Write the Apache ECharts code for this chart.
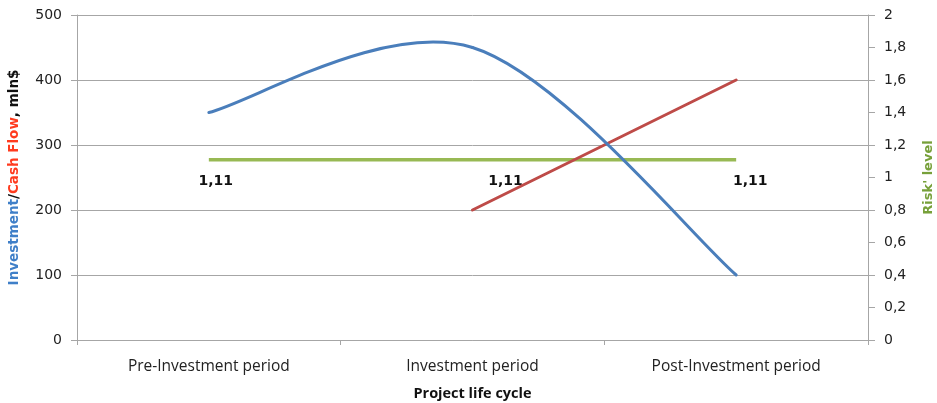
<!DOCTYPE html>
<html>
<head>
<meta charset="utf-8">
<script src="https://cdn.jsdelivr.net/npm/echarts@6/dist/echarts.min.js"></script>
<style>
  html, body { margin: 0; padding: 0; background: #fff; }
  #chart { width: 937px; height: 403px; }
</style>
</head>
<body>
<div id="chart"></div>
<script>
// Project life cycle stages
const stages = ['Pre-Investment period', 'Investment period', 'Post-Investment period'];
// Investment, mln$
const investment = [350, 450, 100];
// Cash flow, mln$
const cashFlow = [null, 200, 400];
// Risk level (right axis)
const riskLevel = [1.11, 1.11, 1.11];
// Left and right axis ranges
const leftAxis = { min: 0, max: 500, step: 100 };
const rightAxis = { min: 0, max: 2, step: 0.2 };

const riskLabelOffsets = [[7, 0], [33, 0], [14, 0]];
const fmtComma = v => String(Math.round(v * 100) / 100).replace('.', ',');

const axisGray = '#a6a6a6';
const blue = '#4a7ebb';

// Smoothed investment curve: cubic Bezier segments with Catmull-Rom style
// control points (tension 1/6), placed through the axes' coordinate system.
function renderSmoothSegment(params, api) {
  const i = params.dataIndex;
  const n = investment.length;
  const pt = k => api.coord([Math.max(0, Math.min(n - 1, k)), investment[Math.max(0, Math.min(n - 1, k))]]);
  const p0 = pt(i - 1), p1 = pt(i), p2 = pt(i + 1), p3 = pt(i + 2);
  const t = 1 / 6;
  return {
    type: 'bezierCurve',
    shape: {
      x1: p1[0], y1: p1[1],
      x2: p2[0], y2: p2[1],
      cpx1: p1[0] + (p2[0] - p0[0]) * t,
      cpy1: p1[1] + (p2[1] - p0[1]) * t,
      cpx2: p2[0] - (p3[0] - p1[0]) * t,
      cpy2: p2[1] - (p3[1] - p1[1]) * t
    },
    style: { stroke: blue, lineWidth: 3, fill: null, lineCap: 'round' }
  };
}

const chart = echarts.init(document.getElementById('chart'));
chart.setOption({
  animation: false,
  grid: { left: 77, right: 69, top: 15, bottom: 63, containLabel: false, outerBoundsMode: 'none' },
  xAxis: {
    type: 'category',
    data: stages,
    boundaryGap: true,
    axisLine: { lineStyle: { color: axisGray, width: 1 } },
    axisTick: { show: true, length: 5, lineStyle: { color: axisGray } },
    axisLabel: { color: '#222', fontFamily: 'Open Sans', fontSize: 15.5, margin: 19 },
    name: 'Project life cycle',
    nameLocation: 'middle',
    nameGap: 46,
    nameTextStyle: { color: '#111', fontFamily: 'Open Sans', fontWeight: 'bold', fontSize: 14.5 }
  },
  yAxis: [
    {
      type: 'value',
      min: leftAxis.min, max: leftAxis.max, interval: leftAxis.step,
      axisLine: { show: true, lineStyle: { color: axisGray } },
      axisTick: { show: true, length: 6, lineStyle: { color: axisGray } },
      splitLine: { lineStyle: { color: axisGray, width: 1 } },
      axisLabel: { color: '#222', fontFamily: 'DejaVu Sans', fontSize: 14, margin: 15 },
      name: '{b|Investment}{k|/}{r|Cash Flow}{k|, mln$}',
      nameLocation: 'middle',
      nameGap: 56,
      nameTextStyle: {
        fontFamily: 'DejaVu Sans', fontWeight: 'bold', fontSize: 13.5,
        rich: {
          b: { color: '#3f7fc8', fontFamily: 'DejaVu Sans', fontWeight: 'bold', fontSize: 13.5 },
          r: { color: '#ff3b1f', fontFamily: 'DejaVu Sans', fontWeight: 'bold', fontSize: 13.5 },
          k: { color: '#111', fontFamily: 'DejaVu Sans', fontWeight: 'bold', fontSize: 13.5 }
        }
      }
    },
    {
      type: 'value',
      position: 'right',
      min: rightAxis.min, max: rightAxis.max, interval: rightAxis.step,
      axisLine: { show: true, lineStyle: { color: axisGray } },
      axisTick: { show: true, length: 7, lineStyle: { color: axisGray } },
      splitLine: { show: false },
      axisLabel: { color: '#222', fontFamily: 'DejaVu Sans', fontSize: 14, margin: 16, formatter: fmtComma },
      name: "Risk' level",
      nameLocation: 'middle',
      nameGap: 54,
      nameRotate: 90,
      nameTextStyle: { color: '#77a03a', fontFamily: 'DejaVu Sans', fontWeight: 'bold', fontSize: 13 }
    }
  ],
  series: [
    {
      type: 'custom', yAxisIndex: 0,
      data: investment.slice(0, -1).map((v, i) => [i, v]),
      encode: { x: 0, y: 1 },
      renderItem: renderSmoothSegment,
      clip: false, z: 3
    },
    {
      type: 'line', yAxisIndex: 0, data: cashFlow,
      symbol: 'none', lineStyle: { color: '#be4b48', width: 3, cap: 'round' }, z: 2
    },
    {
      type: 'line', yAxisIndex: 1,
      data: riskLevel.map((v, i) => ({
        value: v,
        label: { offset: riskLabelOffsets[i] }
      })),
      symbol: 'circle', symbolSize: 1, showSymbol: true,
      itemStyle: { color: 'rgba(152,185,84,0)' },
      lineStyle: { color: '#98b954', width: 3.5 },
      label: {
        show: true, position: 'bottom', distance: 14,
        formatter: p => fmtComma(p.value),
        color: '#111', fontFamily: 'DejaVu Sans', fontWeight: 'bold', fontSize: 14
      },
      z: 1
    }
  ]
});
</script>
</body>
</html>
